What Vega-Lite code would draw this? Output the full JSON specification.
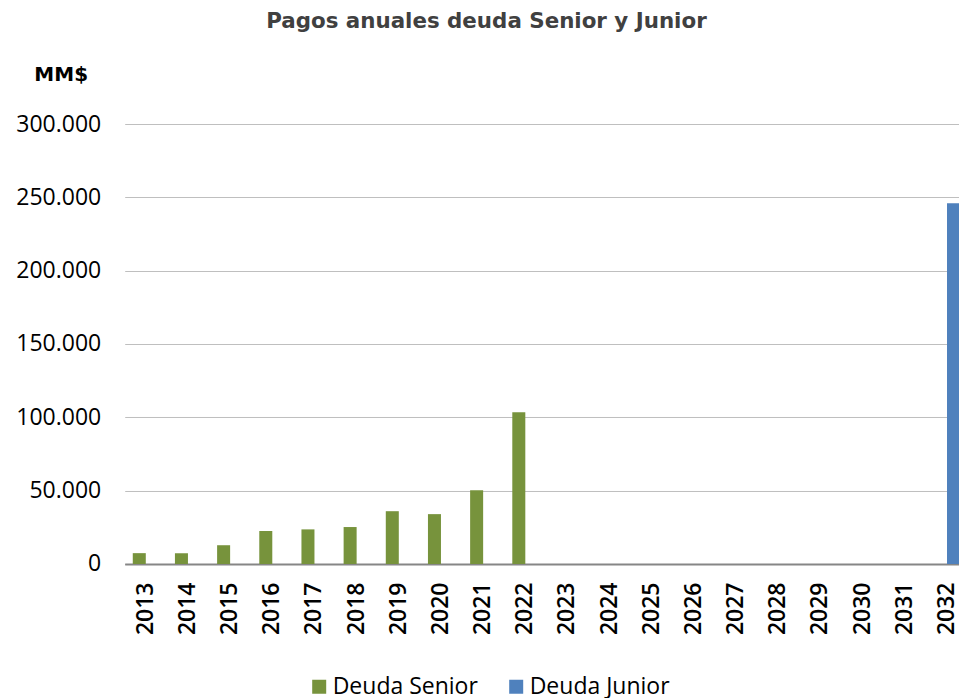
{
  "$schema": "https://vega.github.io/schema/vega-lite/v6.json",
  "autosize": {"type": "none"},
  "padding": {"left": 124.7, "top": 124, "right": 0, "bottom": 134},
  "width": 843.4,
  "height": 440,
  "background": "white",
  "title": {
    "text": "Pagos anuales deuda Senior y Junior",
    "font": "DejaVu Sans",
    "fontSize": 21.4,
    "fontWeight": "bold",
    "color": "#404040",
    "anchor": "middle",
    "frame": "group",
    "dx": -60,
    "offset": 32
  },
  "data": {
    "values": [
      {"year": "2013", "serie": "Deuda Senior", "value": 7400},
      {"year": "2014", "serie": "Deuda Senior", "value": 7400},
      {"year": "2015", "serie": "Deuda Senior", "value": 12800},
      {"year": "2016", "serie": "Deuda Senior", "value": 22500},
      {"year": "2017", "serie": "Deuda Senior", "value": 23600},
      {"year": "2018", "serie": "Deuda Senior", "value": 25200},
      {"year": "2019", "serie": "Deuda Senior", "value": 36000},
      {"year": "2020", "serie": "Deuda Senior", "value": 34000},
      {"year": "2021", "serie": "Deuda Senior", "value": 50200},
      {"year": "2022", "serie": "Deuda Senior", "value": 103500},
      {"year": "2032", "serie": "Deuda Junior", "value": 246000}
    ]
  },
  "mark": {"type": "bar"},
  "encoding": {
    "x": {
      "field": "year",
      "type": "nominal",
      "sort": null,
      "scale": {
        "domain": ["2013","2014","2015","2016","2017","2018","2019","2020","2021","2022","2023","2024","2025","2026","2027","2028","2029","2030","2031","2032"],
        "paddingInner": 0,
        "paddingOuter": 0
      },
      "axis": {
        "title": null,
        "labelAngle": -90,
        "labelFont": "Open Sans",
        "labelFontSize": 23,
        "labelFontWeight": 600,
        "labelColor": "#000000",
        "labelPadding": 18,
        "ticks": false,
        "domainColor": "#868686",
        "domainWidth": 2,
        "labelOverlap": false
      }
    },
    "xOffset": {
      "field": "serie",
      "type": "nominal",
      "scale": {"domain": ["Deuda Senior", "Deuda Junior"], "paddingInner": 0, "paddingOuter": 0.62}
    },
    "y": {
      "field": "value",
      "type": "quantitative",
      "scale": {"domain": [0, 300000], "nice": false},
      "axis": {
        "title": "MM$",
        "titleFont": "DejaVu Sans",
        "titleFontSize": 20,
        "titleFontWeight": "bold",
        "titleColor": "#000000",
        "titleAngle": 0,
        "titleX": -64,
        "titleY": -49.5,
        "titleAlign": "center",
        "titleBaseline": "middle",
        "values": [0, 50000, 100000, 150000, 200000, 250000, 300000],
        "labelExpr": "replace(format(datum.value, ','), ',', '.')",
        "labelFont": "Open Sans",
        "labelFontSize": 23,
        "labelFontWeight": 500,
        "labelColor": "#000000",
        "labelPadding": 24,
        "ticks": false,
        "domain": false,
        "grid": true,
        "gridColor": "#BFBFBF",
        "gridWidth": 1
      }
    },
    "color": {
      "field": "serie",
      "type": "nominal",
      "scale": {"domain": ["Deuda Senior", "Deuda Junior"], "range": ["#77933C", "#4F81BD"]},
      "legend": {
        "title": null,
        "orient": "none",
        "direction": "horizontal",
        "legendX": 183,
        "legendY": 551,
        "symbolType": "square",
        "symbolSize": 196,
        "symbolStrokeWidth": 0,
        "labelFont": "Open Sans",
        "labelFontSize": 23,
        "labelColor": "#000000",
        "labelOffset": 2,
        "columnPadding": 26
      }
    }
  },
  "config": {"view": {"stroke": null}}
}
